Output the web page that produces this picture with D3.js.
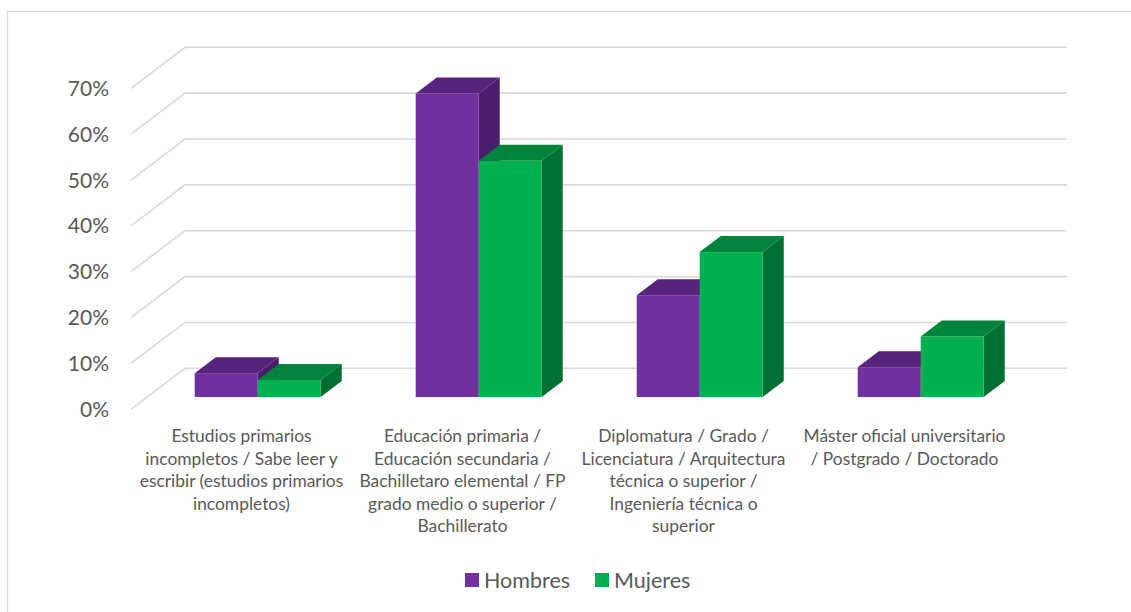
<!DOCTYPE html>
<html>
<head>
<meta charset="utf-8">
<script src="https://cdn.jsdelivr.net/npm/d3@7"></script>
<style>
  html, body { margin: 0; padding: 0; background: #ffffff; }
  svg { display: block; }
  text { font-family: Lato, "Open Sans", sans-serif; fill: #595959; }
</style>
</head>
<body>
<svg id="chart" width="1131" height="612"></svg>
<script>
// Education level by sex (share of each group)
const categories = [
  "Estudios primarios incompletos / Sabe leer y escribir (estudios primarios incompletos)",
  "Educación primaria / Educación secundaria / Bachilletaro elemental / FP grado medio o superior / Bachillerato",
  "Diplomatura / Grado / Licenciatura / Arquitectura técnica o superior / Ingeniería técnica o superior",
  "Máster oficial universitario / Postgrado / Doctorado"
];
const categoryLines = [
  ["Estudios primarios", "incompletos / Sabe leer y", "escribir (estudios primarios", "incompletos)"],
  ["Educación primaria /", "Educación secundaria /", "Bachilletaro elemental / FP", "grado medio o superior /", "Bachillerato"],
  ["Diplomatura / Grado /", "Licenciatura / Arquitectura", "técnica o superior /", "Ingeniería técnica o", "superior"],
  ["Máster oficial universitario", "/ Postgrado / Doctorado"]
];
const seriesNames = ["Hombres", "Mujeres"];
const hombres = [0.052, 0.662, 0.222, 0.065];
const mujeres = [0.037, 0.515, 0.316, 0.132];
const yTicks = [0, 0.1, 0.2, 0.3, 0.4, 0.5, 0.6, 0.7];

const seriesValues = [hombres, mujeres];
const palette = {
  Hombres: { front: "#7030a0", top: "#56247d", side: "#491e6b" },
  Mujeres: { front: "#00b050", top: "#00833b", side: "#007032" }
};

const svg = d3.select("#chart");

// Oblique projection: the floor recedes up and to the right
const depthX = 54, depthY = 41;
const barFront = 0.30, barDepth = 0.39;

const x = d3.scaleBand()
  .domain(d3.range(categories.length))
  .range([131, 1015])
  .paddingInner(0.43)
  .paddingOuter(0.215);

const xs = d3.scaleBand()
  .domain(seriesNames)
  .range([0, x.bandwidth()])
  .padding(0);

const y = d3.scaleLinear()
  .domain([0, 0.7])
  .range([409.3, 88.3]);

// Chart area frame
svg.append("rect")
  .attr("x", 7.5).attr("y", 11.5)
  .attr("width", 1135).attr("height", 615)
  .attr("fill", "none")
  .attr("stroke", "#d9d9d9")
  .attr("stroke-width", 1.3);

// Gridlines: side wall diagonals and back wall lines
const grid = svg.append("g")
  .attr("fill", "none")
  .attr("stroke", "#d9d9d9")
  .attr("stroke-width", 1.6);

yTicks.forEach(t => {
  const yf = y(t);
  grid.append("path")
    .attr("d", d3.line()([
      [x.range()[0], yf],
      [x.range()[0] + depthX, yf - depthY],
      [x.range()[1] + depthX - 2, yf - depthY]
    ]));
});

// Value axis labels
svg.append("g")
  .selectAll("text")
  .data(yTicks)
  .join("text")
  .attr("x", 109)
  .attr("y", d => y(d))
  .attr("dy", "0.36em")
  .attr("text-anchor", "end")
  .attr("font-size", 21)
  .text(d => d3.format(".0%")(d));

// 3D bars
const bars = svg.append("g");
const pts = arr => arr.map(p => p.join(",")).join(" ");

categories.forEach((c, i) => {
  seriesNames.forEach((s, k) => {
    const v = seriesValues[k][i];
    const ox = depthX * barFront, oy = depthY * barFront;
    const x0 = x(i) + xs(s) + ox;
    const x1 = x0 + xs.bandwidth();
    const yT = y(v) - oy;
    const yB = y(0) - oy;
    const dx = depthX * barDepth, dy = depthY * barDepth;
    const col = palette[s];
    const g = bars.append("g");
    g.append("polygon")
      .attr("points", pts([[x0, yT], [x1, yT], [x1 + dx, yT - dy], [x0 + dx, yT - dy]]))
      .attr("fill", col.top);
    g.append("polygon")
      .attr("points", pts([[x1, yT], [x1 + dx, yT - dy], [x1 + dx, yB - dy], [x1, yB]]))
      .attr("fill", col.side);
    g.append("rect")
      .attr("x", x0).attr("y", yT)
      .attr("width", x1 - x0).attr("height", yB - yT)
      .attr("fill", col.front);
  });
});

// Category labels
const catG = svg.append("g").attr("font-size", 17.4);
categoryLines.forEach((lines, i) => {
  const cx = x(i) + x.bandwidth() / 2;
  const t = catG.append("text")
    .attr("text-anchor", "middle")
    .attr("x", cx)
    .attr("y", 442);
  lines.forEach((ln, j) => {
    t.append("tspan")
      .attr("x", cx)
      .attr("y", 442 + j * 22.5)
      .text(ln);
  });
});

// Legend
const legend = svg.append("g");
const legendX = [465, 595];
seriesNames.forEach((s, k) => {
  legend.append("rect")
    .attr("x", legendX[k]).attr("y", 573)
    .attr("width", 14).attr("height", 14)
    .attr("fill", palette[s].front);
  legend.append("text")
    .attr("x", legendX[k] + 19).attr("y", 580)
    .attr("dy", "0.36em")
    .attr("font-size", 21.5)
    .text(s);
});
</script>
</body>
</html>
